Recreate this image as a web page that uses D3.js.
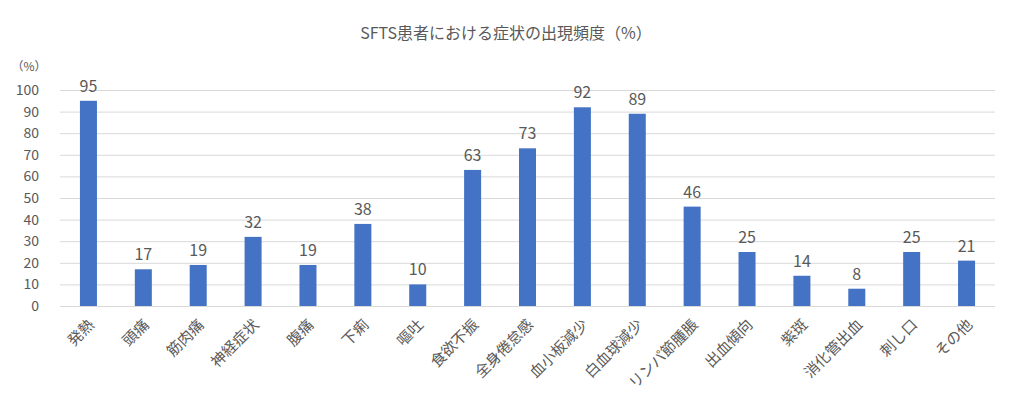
<!DOCTYPE html>
<html>
<head>
<meta charset="utf-8">
<script src="https://cdn.jsdelivr.net/npm/d3@7"></script>
<style>
  body { margin: 0; background: #fff; }
  text { font-family: "Noto Sans CJK JP", "Noto Sans", sans-serif; fill: #595959; }
</style>
</head>
<body>
<div id="chart"></div>
<script>
// data
const categories = ["発熱", "頭痛", "筋肉痛", "神経症状", "腹痛", "下痢", "嘔吐", "食欲不振", "全身倦怠感",
    "血小板減少", "白血球減少", "リンパ節腫脹", "出血傾向", "紫斑", "消化管出血", "刺し口", "その他"];
const values = [95, 17, 19, 32, 19, 38, 10, 63, 73, 92, 89, 46, 25, 14, 8, 25, 21];
const yTicks = [0, 10, 20, 30, 40, 50, 60, 70, 80, 90, 100];

const width = 1011, height = 407;
const margin = {top: 90, right: 17, bottom: 101, left: 61};

const svg = d3.select("#chart").append("svg")
    .attr("width", width)
    .attr("height", height);

const x = d3.scaleBand()
    .domain(categories)
    .range([margin.left, width - margin.right])
    .paddingInner(0.69)
    .paddingOuter(0.345);

const y = d3.scaleLinear()
    .domain([0, 100])
    .range([height - margin.bottom, margin.top]);

// gridlines
svg.append("g")
    .selectAll("line")
    .data(yTicks)
    .enter()
    .append("line")
    .attr("x1", margin.left - 1)
    .attr("x2", width - margin.right + 1)
    .attr("y1", d => y(d) + 0.5)
    .attr("y2", d => y(d) + 0.5)
    .style("stroke", "#d9d9d9")
    .style("stroke-width", 1);

// y tick labels
svg.append("g")
    .selectAll("text")
    .data(yTicks)
    .enter()
    .append("text")
    .attr("x", 39)
    .attr("y", d => y(d))
    .attr("dy", "0.35em")
    .attr("text-anchor", "end")
    .style("font-size", "14px")
    .text(d => d);

svg.append("text")
    .attr("x", 29)
    .attr("y", 67)
    .attr("dy", "0.35em")
    .attr("text-anchor", "middle")
    .style("font-size", "12px")
    .text("（%）");

// bars
svg.append("g")
    .selectAll("rect")
    .data(values)
    .enter()
    .append("rect")
    .attr("x", (d, i) => x(categories[i]))
    .attr("y", d => y(d))
    .attr("width", x.bandwidth())
    .attr("height", d => y(0) - y(d))
    .style("fill", "#4472c4");

// value labels
svg.append("g")
    .selectAll("text")
    .data(values)
    .enter()
    .append("text")
    .attr("x", (d, i) => x(categories[i]) + x.bandwidth() / 2)
    .attr("y", d => y(d) - 9)
    .attr("text-anchor", "middle")
    .style("font-size", "16px")
    .text(d => d);

// category labels
svg.append("g")
    .selectAll("text")
    .data(categories)
    .enter()
    .append("text")
    .attr("transform", d => `translate(${x(d) + x.bandwidth() / 2 + 3}, ${y(0) + 16}) rotate(-45)`)
    .attr("text-anchor", "end")
    .attr("dy", "0.35em")
    .style("font-size", "15px")
    .text(d => d);

// title
svg.append("text")
    .attr("x", 506)
    .attr("y", 33)
    .attr("text-anchor", "middle")
    .attr("dy", "0.35em")
    .style("font-size", "16px")
    .text("SFTS患者における症状の出現頻度（%）");
</script>
</body>
</html>
